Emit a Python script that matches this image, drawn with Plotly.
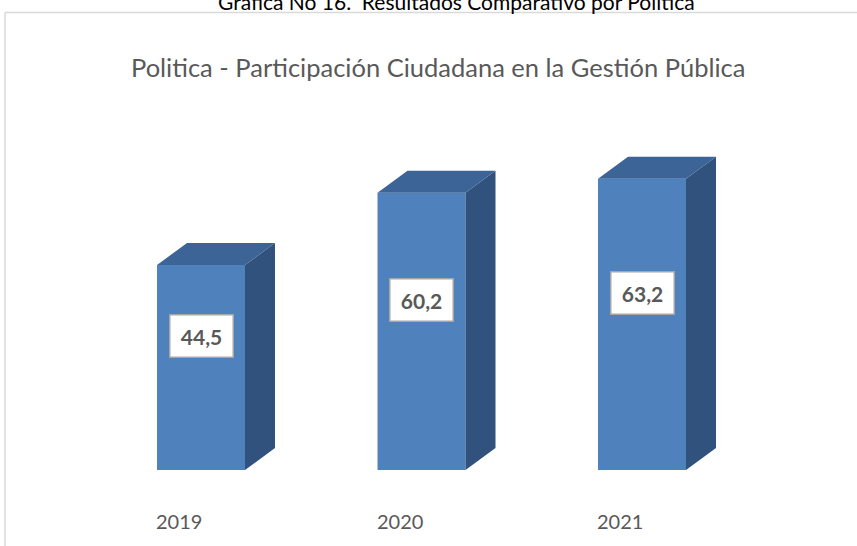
import plotly.graph_objects as go

categories = ["2019", "2020", "2021"]
values = [44.5, 60.2, 63.2]
label_texts = ["44,5", "60,2", "63,2"]
title_text = "Politica - Participación Ciudadana en la Gestión Pública"
caption_text = "Grafica No 16.  Resultados Comparativo por Politica"

W, H = 857, 546
px_per_x = 220.5
x0_px = 201.0
px_per_y = 4.607
y0_px = 470.0

xr = [-x0_px / px_per_x, (W - x0_px) / px_per_x]
yr = [-(H - y0_px) / px_per_y, y0_px / px_per_y]

bw = 88 / px_per_x
dx = 30 / px_per_x
dy = 22 / px_per_y

front = "#4F81BD"
side = "#31527D"
top = "#3C6496"

xs = list(range(len(categories)))

fig = go.Figure()

sx, sy = [], []
tx, ty = [], []
for i, v in zip(xs, values):
    r = i + bw / 2
    l = i - bw / 2
    sx += [r, r + dx, r + dx, r, r, None]
    sy += [0, dy, v + dy, v, 0, None]
    tx += [l, l + dx, r + dx, r, l, None]
    ty += [v, v + dy, v + dy, v, v, None]

fig.add_trace(go.Scatter(x=sx, y=sy, fill="toself", fillcolor=side, mode="lines",
                         line=dict(width=0, color=side), hoverinfo="skip", showlegend=False))
fig.add_trace(go.Scatter(x=tx, y=ty, fill="toself", fillcolor=top, mode="lines",
                         line=dict(width=0, color=top), hoverinfo="skip", showlegend=False))
fig.add_trace(go.Bar(x=xs, y=values, width=bw, marker=dict(color=front, line=dict(width=0)),
                     showlegend=False, hoverinfo="skip"))

FONT = "Lato, 'Open Sans', sans-serif"

for i, v, t in zip(xs, values, label_texts):
    fig.add_annotation(x=i, y=v / 2, yshift=31, text="<b>%s</b>" % t, showarrow=False,
                       font=dict(family=FONT, size=21, color="#595959"),
                       width=50, height=29, align="center",
                       bgcolor="white", bordercolor="#A6A6A6", borderwidth=1.5, borderpad=6)

for i, c in zip(xs, categories):
    fig.add_annotation(x=i, y=(y0_px - 521) / px_per_y, xshift=-22, text=c, showarrow=False,
                       font=dict(family=FONT, size=20, color="#595959"))

fig.add_annotation(xref="paper", yref="paper", x=438 / W, y=1 - 50 / H, text=title_text,
                   showarrow=False, font=dict(family=FONT, size=25.5, color="#595959"))
fig.add_annotation(xref="paper", yref="paper", x=456 / W, y=1, yshift=-1, yanchor="middle",
                   text=caption_text, showarrow=False,
                   font=dict(family=FONT, size=21, color="#000000"))

fig.add_shape(type="line", xref="paper", yref="paper", x0=5 / W, x1=1.01, y0=1 - 12.5 / H, y1=1 - 12.5 / H,
              line=dict(color="#D9D9D9", width=1.5))
fig.add_shape(type="line", xref="paper", yref="paper", x0=5 / W, x1=5 / W, y0=1 - 12.5 / H, y1=-0.01,
              line=dict(color="#D9D9D9", width=1.5))

fig.update_layout(width=W, height=H, margin=dict(l=0, r=0, t=0, b=0),
                  paper_bgcolor="white", plot_bgcolor="white",
                  xaxis=dict(range=xr, visible=False, fixedrange=True),
                  yaxis=dict(range=yr, visible=False, fixedrange=True))

fig.write_html("out.html", config={"displayModeBar": False},
               post_script="document.body.style.margin='0';document.body.style.padding='0';")
